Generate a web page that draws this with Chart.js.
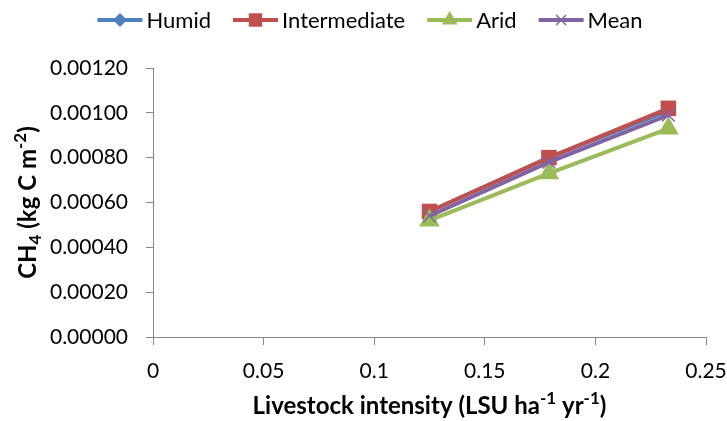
<!DOCTYPE html>
<html>
<head>
<meta charset="utf-8">
<title>CH4 vs livestock intensity</title>
<script src="https://cdn.jsdelivr.net/npm/chart.js@4.4.0/dist/chart.umd.min.js"></script>
<style>
  html, body { margin: 0; padding: 0; background: #fff; }
  #wrap { position: relative; width: 727px; height: 421px; }
</style>
</head>
<body>
<div id="wrap"><canvas id="ch4Chart"></canvas></div>
<script>
// data
var seriesNames = ['Humid', 'Intermediate', 'Arid', 'Mean'];
var intensity = [0.125, 0.179, 0.233];
var humid = [0.00056, 0.00080, 0.00101];
var intermediate = [0.00056, 0.00080, 0.00102];
var arid = [0.00052, 0.00073, 0.00093];
var mean = [0.00054, 0.00078, 0.00099];
var xTickLabels = ['0', '0.05', '0.1', '0.15', '0.2', '0.25'];
var yTickLabels = ['0.00000', '0.00020', '0.00040', '0.00060', '0.00080', '0.00100', '0.00120'];

var colors = ['#4F81BD', '#C0504D', '#9BBB59', '#8064A2'];
var markers = ['rectRot', 'rect', 'triangle', 'crossRot'];
var markerSize = [8, 11, 12, 9];
var legendMarkerSize = [7, 9.5, 9, 7];
var FONT = 'Lato, "Open Sans", sans-serif';
var AXIS = '#868686';

function toPoints(ys) {
  return ys.map(function (y, i) { return { x: intensity[i], y: y }; });
}

var seriesValues = [humid, intermediate, arid, mean];
var datasets = seriesNames.map(function (name, i) {
  return {
    label: name,
    data: toPoints(seriesValues[i]),
    borderColor: colors[i],
    backgroundColor: colors[i],
    borderWidth: 4,
    pointStyle: markers[i],
    pointRadius: markerSize[i],
    pointBorderWidth: i === 3 ? 1.5 : 0,
    pointBorderColor: colors[i],
    pointBackgroundColor: colors[i],
    order: 4 - i,   // Mean on top, Humid at the bottom
    tension: 0
  };
});

// text built from pieces, some of them sub- or superscript
function partSize(p, size) {
  return p[1] === 'n' ? size : Math.round(size * 0.7);
}
function drawRich(ctx, parts, x, y, size) {
  var w = 0;
  parts.forEach(function (p) {
    ctx.font = 'bold ' + partSize(p, size) + 'px ' + FONT;
    w += ctx.measureText(p[0]).width;
  });
  var cx = x - w / 2;
  ctx.textBaseline = 'middle';
  ctx.textAlign = 'left';
  parts.forEach(function (p) {
    var dy = p[1] === 'sub' ? size * 0.3 : (p[1] === 'sup' ? -size * 0.33 : 0);
    ctx.font = 'bold ' + partSize(p, size) + 'px ' + FONT;
    ctx.fillText(p[0], cx, y + dy);
    cx += ctx.measureText(p[0]).width;
  });
}

var xTitle = [['Livestock intensity (LSU ha', 'n'], ['-1', 'sup'], [' yr', 'n'], ['-1', 'sup'], [')', 'n']];
var yTitle = [['CH', 'n'], ['4', 'sub'], [' (kg C m', 'n'], ['-2', 'sup'], [')', 'n']];

var extras = {
  id: 'extras',
  afterDraw: function (chart) {
    var ctx = chart.ctx;
    var area = chart.chartArea;
    ctx.save();
    ctx.fillStyle = '#000';
    drawRich(ctx, xTitle, (area.left + area.right) / 2, 406, 24);
    ctx.translate(28, (area.top + area.bottom) / 2);
    ctx.rotate(-Math.PI / 2);
    drawRich(ctx, yTitle, 0, 0, 24);
    ctx.restore();

    // legend: short line with marker, then the name
    ctx.save();
    ctx.font = '22px ' + FONT;
    var lineLen = 45, gapText = 4, gapItem = 22;
    var total = 0;
    seriesNames.forEach(function (n, i) {
      total += lineLen + gapText + ctx.measureText(n).width + (i < seriesNames.length - 1 ? gapItem : 0);
    });
    var x = 370 - total / 2, y = 20;
    seriesNames.forEach(function (n, i) {
      ctx.strokeStyle = colors[i];
      ctx.fillStyle = colors[i];
      ctx.lineWidth = 4;
      ctx.beginPath();
      ctx.moveTo(x, y);
      ctx.lineTo(x + lineLen, y);
      ctx.stroke();
      ctx.lineWidth = 1.5;
      Chart.helpers.drawPoint(ctx, {
        pointStyle: markers[i], radius: legendMarkerSize[i], rotation: 0,
        borderWidth: i === 3 ? 1.5 : 0
      }, x + lineLen / 2, y);
      ctx.fillStyle = '#000';
      ctx.font = '22px ' + FONT;
      ctx.textBaseline = 'middle';
      ctx.textAlign = 'left';
      ctx.fillText(n, x + lineLen + gapText, y + 1);
      x += lineLen + gapText + ctx.measureText(n).width + gapItem;
    });
    ctx.restore();
  }
};

new Chart(document.getElementById('ch4Chart'), {
  type: 'line',
  data: { datasets: datasets },
  options: {
    responsive: true,
    maintainAspectRatio: false,
    animation: false,
    layout: { padding: { top: 68, right: 21, left: 0, bottom: 0 } },
    plugins: {
      legend: { display: false },
      tooltip: { enabled: false }
    },
    scales: {
      x: {
        type: 'linear',
        min: 0,
        max: 0.25,
        ticks: {
          stepSize: 0.05,
          color: '#000',
          font: { family: FONT, size: 21 },
          padding: 14,
          maxRotation: 0,
          callback: function (v, i) { return xTickLabels[i]; }
        },
        grid: { drawOnChartArea: false, color: AXIS, tickLength: 8 },
        border: { color: AXIS, width: 1 },
        afterFit: function (scale) {
          scale.height = 84;
          scale.paddingLeft = 0;
          scale.paddingRight = 0;
        }
      },
      y: {
        min: 0,
        max: 0.0012,
        ticks: {
          stepSize: 0.0002,
          color: '#000',
          font: { family: FONT, size: 21 },
          padding: 18,
          callback: function (v, i) { return yTickLabels[i]; }
        },
        grid: { drawOnChartArea: false, color: AXIS, tickLength: 7 },
        border: { color: AXIS, width: 1 },
        afterFit: function (scale) {
          scale.width = 153;
          scale.paddingTop = 0;
          scale.paddingBottom = 0;
        }
      }
    }
  },
  plugins: [extras]
});
</script>
</body>
</html>
